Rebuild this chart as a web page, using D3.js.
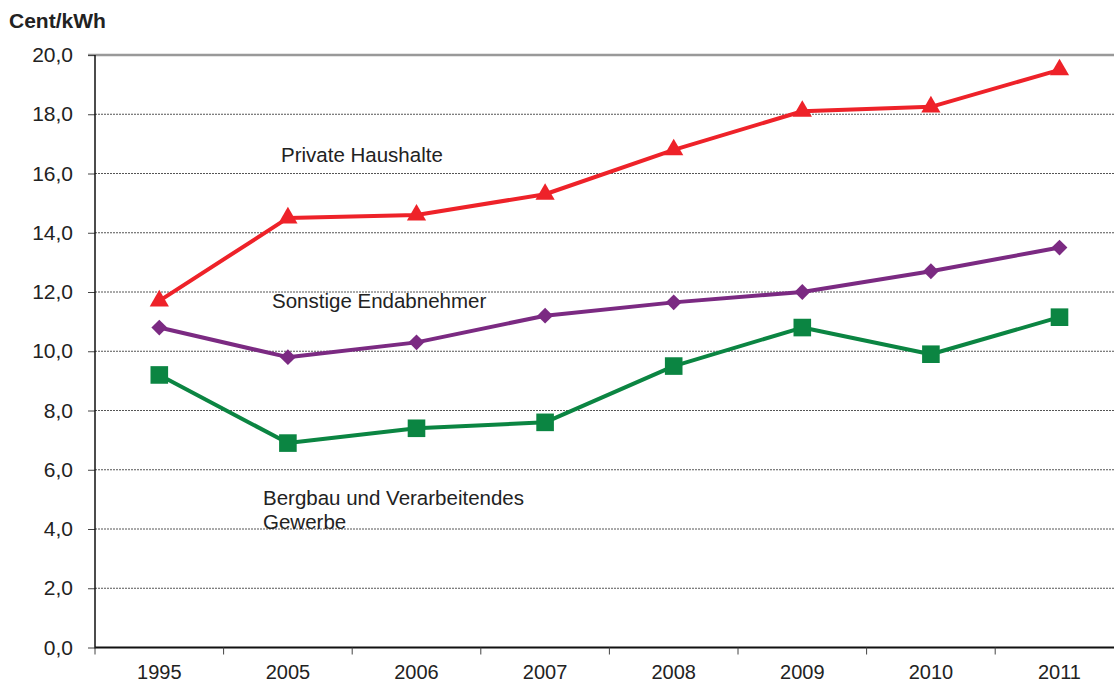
<!DOCTYPE html>
<html><head><meta charset="utf-8">
<script src="https://cdn.jsdelivr.net/npm/d3@7"></script>
<style>body{margin:0;background:#fff}svg{display:block;font-family:"Liberation Sans",Arial,sans-serif}</style>
</head><body><svg id="c" width="1114" height="686"></svg>
<script>
const years = ["1995","2005","2006","2007","2008","2009","2010","2011"];
const privateHaushalte = [11.7,14.5,14.6,15.3,16.8,18.1,18.25,19.5];
const sonstigeEndabnehmer = [10.8,9.8,10.3,11.2,11.65,12.0,12.7,13.5];
const bergbauGewerbe = [9.2,6.9,7.4,7.6,9.5,10.8,9.9,11.15];
const yTicks = [0,2,4,6,8,10,12,14,16,18,20];

(function(){
const svg = d3.select("#c");
const pLeft = 95, pTop = 55, pBottom = 647.5, bw = 128.6;
const x = d3.scaleBand().domain(years).range([pLeft, pLeft + bw*years.length]);
const y = d3.scaleLinear().domain([0,20]).range([pBottom, pTop]);
const fmt = v => d3.format(".1f")(v).replace(".", ",");

// gridlines
svg.append("g").selectAll("line").data(yTicks.filter(v=>v>0 && v<20)).join("line")
  .attr("x1", pLeft).attr("x2", 1114).attr("y1", d=>y(d)).attr("y2", d=>y(d))
  .attr("stroke","#555").attr("stroke-width",1).attr("stroke-dasharray","2,1");
svg.append("line").attr("x1",pLeft-7).attr("x2",1114).attr("y1",y(20)).attr("y2",y(20))
  .attr("stroke","#999").attr("stroke-width",2.5);

// y axis
const ya = svg.append("g").attr("transform",`translate(${pLeft},0)`)
  .call(d3.axisLeft(y).tickValues(yTicks).tickFormat(fmt).tickSize(7).tickPadding(15));
ya.select(".domain").remove();
ya.selectAll(".tick line").attr("stroke","#444");
ya.selectAll("text").attr("font-size",21).attr("fill","#222").attr("font-family","Liberation Sans, Arial");
svg.append("line").attr("x1",pLeft).attr("x2",pLeft).attr("y1",y(20)).attr("y2",pBottom+1).attr("stroke","#111").attr("stroke-width",1.5);

// x axis
svg.append("line").attr("x1",pLeft).attr("x2",1114).attr("y1",pBottom).attr("y2",pBottom).attr("stroke","#111").attr("stroke-width",2);
const bounds = years.map(d=>x(d)).concat([x.range()[1]]);
svg.append("g").selectAll("line").data(bounds).join("line")
  .attr("x1",d=>d).attr("x2",d=>d).attr("y1",pBottom).attr("y2",pBottom+7).attr("stroke","#444");
svg.append("g").selectAll("text").data(years).join("text")
  .attr("x",d=>x(d)+x.bandwidth()/2).attr("y",679).attr("text-anchor","middle")
  .attr("font-size",20).attr("fill","#222").text(d=>d);

svg.append("text").attr("x",9).attr("y",28).attr("font-size",21).attr("font-weight","bold").attr("fill","#222").text("Cent/kWh");

const cx = d => x(d)+x.bandwidth()/2;
const series = [
  {vals: bergbauGewerbe, color:"#0b8542", sym:d3.symbolSquare, size:310, rot:0},
  {vals: sonstigeEndabnehmer, color:"#7b2a82", sym:d3.symbolSquare, size:125, rot:45},
  {vals: privateHaushalte, color:"#ee2229", sym:d3.symbolTriangle, size:160, rot:0},
];
series.forEach(s=>{
  svg.append("path").datum(s.vals)
    .attr("d", d3.line().x((v,i)=>cx(years[i])).y(v=>y(v)))
    .attr("fill","none").attr("stroke",s.color).attr("stroke-width",4).attr("stroke-linejoin","round");
  svg.append("g").selectAll("path").data(s.vals).join("path")
    .attr("d", d3.symbol().type(s.sym).size(s.size))
    .attr("transform",(v,i)=>`translate(${cx(years[i])},${y(v)}) rotate(${s.rot})`)
    .attr("fill",s.color);
});

const labels = [
  {lines:["Private Haushalte"], x:281, y:162},
  {lines:["Sonstige Endabnehmer"], x:272, y:308},
  {lines:["Bergbau und Verarbeitendes","Gewerbe"], x:263, y:505},
];
const lt = svg.append("g").selectAll("text").data(labels).join("text")
  .attr("x",d=>d.x).attr("y",d=>d.y).attr("font-size",20.5).attr("fill","#222");
lt.selectAll("tspan").data(d=>d.lines.map((l,i)=>({l,i,x:d.x}))).join("tspan")
  .attr("x",d=>d.x).attr("dy",d=>d.i?24:0).text(d=>d.l);
})();
</script></body></html>
